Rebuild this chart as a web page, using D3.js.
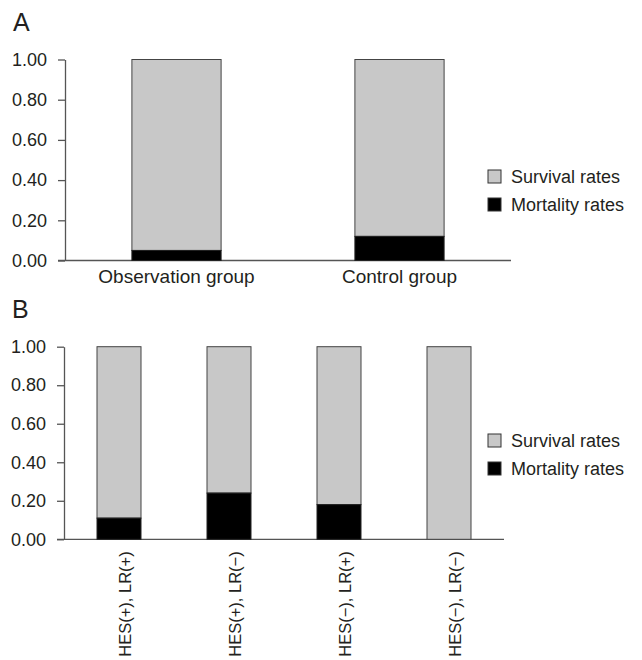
<!DOCTYPE html>
<html>
<head>
<meta charset="utf-8">
<script src="https://cdn.jsdelivr.net/npm/d3@7"></script>
<style>
  body { margin: 0; background: #fff; }
  text { font-family: "Liberation Sans", Arial, Helvetica, sans-serif; fill: #231f20; }
</style>
</head>
<body>
<div class="viewbox"></div>
<script>
// panel A: survival vs mortality by group
const groupsA = ["Observation group", "Control group"];
const mortalityA = [0.05, 0.12];

// panel B: by HES / LR status
const groupsB = ["HES(+), LR(+)", "HES(+), LR(\u2212)", "HES(\u2212), LR(+)", "HES(\u2212), LR(\u2212)"];
const mortalityB = [0.11, 0.24, 0.18, 0];

const yTicks = [0, 0.2, 0.4, 0.6, 0.8, 1.0];
const seriesNames = ["Survival rates", "Mortality rates"];
const seriesColors = ["#c8c8c8", "#000000"];

const svg_width = 642;
const svg_height = 660;

let svg = d3.select(".viewbox")
  .append("svg")
  .attr("width", svg_width)
  .attr("height", svg_height);

function panel(opts) {
  let g = svg.append("g");

  let x = d3.scaleBand()
    .domain(opts.groups)
    .range([opts.left, opts.right])
    .paddingInner(0.6)
    .paddingOuter(0.3);

  let y = d3.scaleLinear()
    .domain([0, 1])
    .range([opts.bottom, opts.top]);

  // panel letter
  g.append("text")
    .attr("x", opts.left - 52)
    .attr("y", opts.top - 29)
    .attr("font-size", 25)
    .text(opts.letter);

  // y axis
  let yAxis = g.append("g")
    .attr("transform", `translate(${opts.left},0)`)
    .call(d3.axisLeft(y).tickValues(yTicks).tickFormat(d3.format(".2f")).tickSize(7).tickPadding(11).tickSizeOuter(0));
  yAxis.selectAll("text").attr("font-size", 18).attr("font-family", null).attr("fill", "#231f20");
  yAxis.selectAll("line, path").attr("stroke", "#555").attr("stroke-width", 1.3);

  // x baseline (extends under the 0.00 tick)
  g.append("line")
    .attr("x1", opts.left - 7)
    .attr("x2", opts.right)
    .attr("y1", y(0))
    .attr("y2", y(0))
    .attr("stroke", "#555")
    .attr("stroke-width", 1.3);

  let rows = opts.groups.map((name, i) => ({ name: name, mort: opts.mortality[i] }));

  // survival part (top)
  g.selectAll(".surv")
    .data(rows)
    .enter()
    .append("rect")
    .attr("class", "surv")
    .attr("x", d => x(d.name))
    .attr("width", x.bandwidth())
    .attr("y", y(1))
    .attr("height", d => y(d.mort) - y(1))
    .attr("fill", seriesColors[0])
    .attr("stroke", "#444")
    .attr("stroke-width", 1);

  // mortality part (bottom)
  g.selectAll(".mort")
    .data(rows.filter(d => d.mort > 0))
    .enter()
    .append("rect")
    .attr("class", "mort")
    .attr("x", d => x(d.name))
    .attr("width", x.bandwidth())
    .attr("y", d => y(d.mort))
    .attr("height", d => y(0) - y(d.mort))
    .attr("fill", seriesColors[1])
    .attr("stroke", "#222")
    .attr("stroke-width", 1);

  // category labels
  if (opts.rotate) {
    g.selectAll(".cat")
      .data(opts.groups)
      .enter()
      .append("text")
      .attr("class", "cat")
      .attr("font-size", 16.5)
      .attr("text-anchor", "end")
      .attr("transform", d => `translate(${x(d) + x.bandwidth() / 2 + 12},${y(0) + 12}) rotate(-90)`)
      .text(d => d);
  } else {
    g.selectAll(".cat")
      .data(opts.groups)
      .enter()
      .append("text")
      .attr("class", "cat")
      .attr("font-size", 19)
      .attr("text-anchor", "middle")
      .attr("x", d => x(d) + x.bandwidth() / 2)
      .attr("y", y(0) + 22)
      .text(d => d);
  }

  // legend
  let lg = g.append("g")
    .attr("transform", `translate(488,${opts.legendTop})`);
  seriesNames.forEach((s, i) => {
    lg.append("rect")
      .attr("x", 0)
      .attr("y", i * 28)
      .attr("width", 13)
      .attr("height", 13)
      .attr("fill", seriesColors[i])
      .attr("stroke", "#333")
      .attr("stroke-width", 1);
    lg.append("text")
      .attr("x", 23)
      .attr("y", i * 28 + 13)
      .attr("font-size", 18)
      .text(s);
  });
}

panel({ letter: "A", groups: groupsA, mortality: mortalityA,
        left: 65, right: 511, top: 59.5, bottom: 260.5, legendTop: 170, rotate: false });

panel({ letter: "B", groups: groupsB, mortality: mortalityB,
        left: 64, right: 504, top: 346.7, bottom: 539.3, legendTop: 434, rotate: true });
</script>
</body>
</html>
